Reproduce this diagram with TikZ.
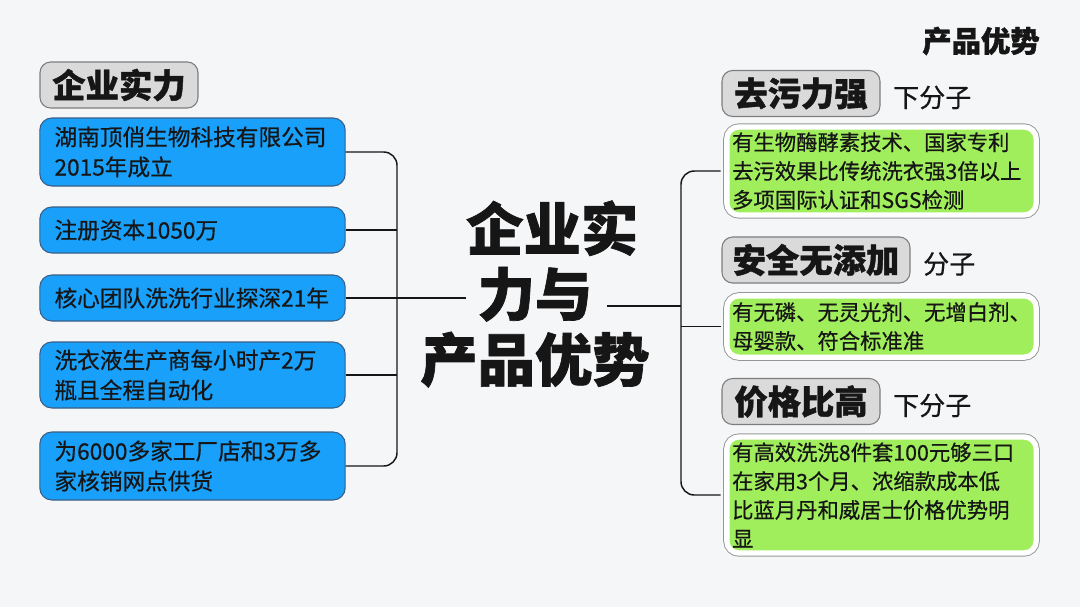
\documentclass[tikz,border=0pt]{standalone}
\usepackage{fontspec}
\setmainfont{Noto Sans CJK SC}[UprightFeatures={FakeBold=0.5}]
\newfontfamily\heavyfont{Noto Sans CJK SC}[BoldFeatures={FakeBold=1.2}]
\usepackage{xcolor}
\usepackage{tikz}
\usetikzlibrary{calc,positioning}
\definecolor{paper}{RGB}{245,246,247}
\definecolor{ink}{RGB}{22,22,22}
\definecolor{skyfill}{RGB}{24,160,250}
\definecolor{skyline}{RGB}{55,95,135}
\definecolor{limefill}{RGB}{160,238,92}
\definecolor{capfill}{RGB}{218,218,218}
\definecolor{capline}{RGB}{125,125,125}

\begin{document}
\begin{tikzpicture}[x=0.75pt,y=-0.75pt,
  capbox/.style={draw=capline,fill=capfill,rounded corners=8pt,line width=0.8pt,
    minimum height=34.5pt,inner xsep=8pt,text=ink,font=\fontsize{25pt}{28pt}\selectfont\heavyfont\bfseries},
  skybox/.style={draw=skyline,fill=skyfill,rounded corners=9pt,line width=0.8pt,
    text width=207pt,inner xsep=11pt,align=left,text=ink,font=\fontsize{17pt}{22.5pt}\selectfont},
  limebox/.style={preaction={draw=capline!80,line width=5.4pt},draw=white,line width=4pt,
    fill=limefill,rounded corners=9pt,text width=224pt,inner xsep=4pt,align=left,text=ink,
    font=\fontsize{16pt}{21.6pt}\selectfont},
  subtag/.style={anchor=west,text=ink,font=\fontsize{19.5pt}{22pt}\selectfont},
  link/.style={draw=ink,line width=1.1pt}]
\fill[paper] (0,0) rectangle (1080,607);

\node[capbox,minimum width=118.5pt] (capL) at (119,85) {企业实力};
\node[skybox,minimum height=51pt] (b1) at (192.5,152) {湖南顶俏生物科技有限公司\\2015年成立};
\node[skybox,minimum height=34.5pt] (b2) at (192.5,230) {注册资本1050万};
\node[skybox,minimum height=34.5pt] (b3) at (192.5,298) {核心团队洗洗行业探深21年};
\node[skybox,minimum height=49.5pt] (b4) at (192.5,375) {洗衣液生产商每小时产2万\\瓶且全程自动化};
\node[skybox,minimum height=51pt] (b5) at (192.5,466) {为6000多家工厂店和3万多\\家核销网点供货};

\node[align=center,text=ink,font=\fontsize{43pt}{49pt}\selectfont\heavyfont\bfseries] (title) at (535,294)
  {\hspace*{0.6em}企业实\\力与\\产品优势};
\node[text=ink,font=\fontsize{22pt}{26pt}\selectfont\heavyfont\bfseries] (top) at (981,41) {产品优势};

\node[capbox,minimum width=118.5pt] (cap1) at (801,93.5) {去污力强};
\node[subtag,right=6pt of cap1,yshift=-3pt] (sub1) {下分子};
\node[limebox,minimum height=66pt] (g1) at (881.5,171)
  {有生物酶酵素技术、国家专利\\去污效果比传统洗衣强3倍以上\\多项国际认证和SGS检测};

\node[capbox,minimum width=141pt] (cap2) at (816,260) {安全无添加};
\node[subtag,right=6pt of cap2,yshift=-3pt] (sub2) {分子};
\node[limebox,minimum height=46pt] (g2) at (881.5,326.5)
  {有无磷、无灵光剂、无增白剂、\\母婴款、符合标准准};

\node[capbox,minimum width=118.5pt] (cap3) at (801,401.5) {价格比高};
\node[subtag,right=6pt of cap3,yshift=-3pt] (sub3) {下分子};
\node[limebox,minimum height=87pt] (g3) at (881.5,495)
  {有高效洗洗8件套100元够三口\\在家用3个月、浓缩款成本低\\比蓝月丹和威居士价格优势明\\显};

\coordinate (jL) at (397,298);
\coordinate (tL) at (466,298);
\coordinate (jR) at (681,306);
\coordinate (tR) at (607,306);

\draw[link,rounded corners=10pt] (b1.east) -| (jL |- b5.east) -- (b5.east);
\draw[link] (b2.east) -- (b2.east -| jL);
\draw[link] (b3.east) -- (b3.east -| jL);
\draw[link] (b4.east) -- (b4.east -| jL);
\draw[link] (jL) -- (tL);

\draw[link,rounded corners=10pt,shorten <=2.7pt,shorten >=2.7pt] (g1.west) -| (jR |- g3.west) -- (g3.west);
\draw[link,shorten <=2.7pt] (g2.west) -- (g2.west -| jR);
\draw[link] (tR) -- (jR);
\end{tikzpicture}
\end{document}
